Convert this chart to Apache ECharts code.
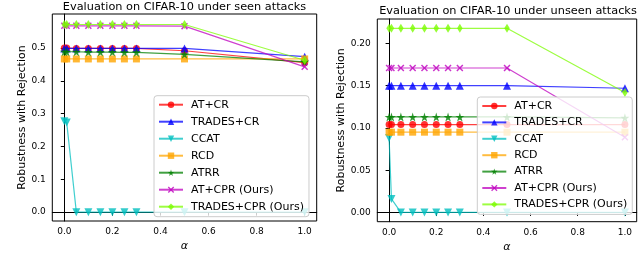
<!DOCTYPE html>
<html>
<head>
<meta charset="utf-8">
<script src="https://cdn.jsdelivr.net/npm/echarts@6/dist/echarts.min.js"></script>
<style>html,body{margin:0;padding:0;background:#fff}#c{width:640px;height:271px}</style>
</head>
<body>
<div id="c"></div>
<script>
const alphas = [0, 0.01, 0.05, 0.1, 0.15, 0.2, 0.25, 0.3, 0.5, 1.0];
const methods = ['AT+CR', 'TRADES+CR', 'CCAT', 'RCD', 'ATRR', 'AT+CPR (Ours)', 'TRADES+CPR (Ours)'];

// Left: seen attacks
const seenATCR      = [0.500, 0.500, 0.499, 0.499, 0.499, 0.499, 0.499, 0.499, 0.492, 0.456];
const seenTRADESCR  = [0.499, 0.499, 0.499, 0.499, 0.499, 0.499, 0.499, 0.499, 0.499, 0.474];
const seenCCAT      = [0.277, 0.273, 0, 0, 0, 0, 0, 0, 0, 0];
const seenRCD       = [0.467, 0.467, 0.467, 0.467, 0.467, 0.467, 0.467, 0.467, 0.467, 0.467];
const seenATRR      = [0.489, 0.489, 0.489, 0.488, 0.488, 0.488, 0.487, 0.487, 0.481, 0.458];
const seenATCPR     = [0.568, 0.568, 0.568, 0.568, 0.568, 0.568, 0.568, 0.568, 0.567, 0.443];
const seenTRADESCPR = [0.572, 0.572, 0.572, 0.572, 0.572, 0.572, 0.572, 0.572, 0.572, 0.463];

// Right: unseen attacks
const unseenATCR      = [0.104, 0.104, 0.104, 0.104, 0.104, 0.104, 0.104, 0.104, 0.104, 0.104];
const unseenTRADESCR  = [0.150, 0.150, 0.150, 0.150, 0.150, 0.150, 0.150, 0.150, 0.150, 0.147];
const unseenCCAT      = [0.088, 0.016, 0, 0, 0, 0, 0, 0, 0, 0];
const unseenRCD       = [0.095, 0.095, 0.095, 0.095, 0.095, 0.095, 0.095, 0.095, 0.095, 0.095];
const unseenATRR      = [0.113, 0.113, 0.113, 0.113, 0.113, 0.113, 0.113, 0.113, 0.113, 0.112];
const unseenATCPR     = [0.171, 0.171, 0.171, 0.171, 0.171, 0.171, 0.171, 0.171, 0.171, 0.089];
const unseenTRADESCPR = [0.218, 0.218, 0.218, 0.218, 0.218, 0.218, 0.218, 0.218, 0.218, 0.142];

const xTicks = [0, 0.2, 0.4, 0.6, 0.8, 1.0];
const yTicksSeen = [0, 0.1, 0.2, 0.3, 0.4, 0.5];
const yTicksUnseen = [0, 0.05, 0.10, 0.15, 0.20];

const seenData = [seenATCR, seenTRADESCR, seenCCAT, seenRCD, seenATRR, seenATCPR, seenTRADESCPR];
const unseenData = [unseenATCR, unseenTRADESCR, unseenCCAT, unseenRCD, unseenATRR, unseenATCPR, unseenTRADESCPR];

const FONT = 'DejaVu Sans';
const colors = ['#ff0000', '#0000ff', '#00bfbf', '#ffa500', '#008000', '#bf00bf', '#7cfc00'];
const starPath = 'path://M50,0 L61,35 L98,35 L68,57 L79,91 L50,70 L21,91 L32,57 L2,35 L39,35 Z';
const xPath = 'path://M0,3 L3,0 L10,7 L17,0 L20,3 L13,10 L20,17 L17,20 L10,13 L3,20 L0,17 L7,10 Z';
const downTri = 'path://M0,0 L10,0 L5,9 Z';
const symbols = ['circle', 'triangle', downTri, 'rect', starPath, xPath, 'diamond'];
const symSizes = [7, 8, 8, 7, 9, 7, [5.5, 9]];

function makeSeries(dataSets, gi) {
  return methods.map((name, i) => ({
    name: name,
    type: 'line',
    xAxisIndex: gi, yAxisIndex: gi,
    data: alphas.map((a, k) => [a, dataSets[i][k]]),
    symbol: symbols[i],
    symbolSize: symSizes[i],
    showAllSymbol: true,
    color: colors[i],
    lineStyle: { width: 1.2, color: colors[i], opacity: 0.75 },
    itemStyle: { color: colors[i], opacity: 0.8 },
    z: 2 + i,
    animation: false
  }));
}

function xAxis(gi) {
  return {
    type: 'value', gridIndex: gi, min: -0.05, max: 1.05,
    name: 'α', nameLocation: 'middle', nameGap: 19,
    nameTextStyle: { fontFamily: FONT, fontSize: 11, fontStyle: 'italic', color: '#000' },
    axisLine: { show: true, lineStyle: { color: '#000', width: 1 } },
    axisTick: { show: true, inside: false, length: 3.5, customValues: xTicks, lineStyle: { color: '#000' } },
    axisLabel: { customValues: xTicks, margin: 6, fontFamily: FONT, fontSize: 9, color: '#000',
      formatter: v => v.toFixed(1) },
    splitLine: { show: false }
  };
}
function yAxis(gi, min, max, ticks, dec, gap) {
  return {
    type: 'value', gridIndex: gi, min: min, max: max,
    name: 'Robustness with Rejection', nameLocation: 'middle', nameGap: gap,
    nameTextStyle: { fontFamily: FONT, fontSize: 11, color: '#000' },
    axisLine: { show: true, lineStyle: { color: '#000', width: 1 } },
    axisTick: { show: true, inside: false, length: 3.5, customValues: ticks, lineStyle: { color: '#000' } },
    axisLabel: { customValues: ticks, margin: 6.5, fontFamily: FONT, fontSize: 9, color: '#000',
      formatter: v => v.toFixed(dec) },
    splitLine: { show: false }
  };
}

function legend(left, top, gap, seriesIdx) {
  return {
    orient: 'vertical', left: left, top: top,
    data: methods,
    itemWidth: 24, itemHeight: 8, itemGap: gap,
    padding: [2, 5, 3, 4],
    backgroundColor: 'rgba(255,255,255,0.8)',
    borderColor: '#cccccc', borderWidth: 1, borderRadius: 3,
    textStyle: { fontFamily: FONT, fontSize: 11, color: '#000', lineHeight: 14, padding: [0, 0, 0, 3] },
    selectedMode: false,
    z: 20
  };
}

const chart = echarts.init(document.getElementById('c'), null, { renderer: 'canvas' });
const seriesL = makeSeries(seenData, 0);
const seriesR = makeSeries(unseenData, 1);
chart.setOption({
  backgroundColor: '#fff',
  animation: false,
  grid: [
    { left: 52.3, top: 14, width: 264.4, height: 207, show: true, borderColor: '#000', borderWidth: 1, backgroundColor: 'transparent' },
    { left: 377.3, top: 19, width: 259.4, height: 202.7, show: true, borderColor: '#000', borderWidth: 1, backgroundColor: 'transparent' }
  ],
  xAxis: [xAxis(0), xAxis(1)],
  yAxis: [yAxis(0, -0.027, 0.604, yTicksSeen, 1, 25), yAxis(1, -0.011, 0.229, yTicksUnseen, 2, 31)],
  legend: [legend(154, 95.7, 3), legend(477.3, 97, 2.4)],
  graphic: [
    { type: 'text', x: 184.5, y: 6.8, style: { text: 'Evaluation on CIFAR-10 under seen attacks', fontFamily: FONT, fontSize: 11.3, fill: '#000', textAlign: 'center', textVerticalAlign: 'middle' } },
    { type: 'text', x: 508, y: 10.8, style: { text: 'Evaluation on CIFAR-10 under unseen attacks', fontFamily: FONT, fontSize: 11.3, fill: '#000', textAlign: 'center', textVerticalAlign: 'middle' } }
  ],
  series: seriesL.concat(seriesR)
});
</script>
</body>
</html>
